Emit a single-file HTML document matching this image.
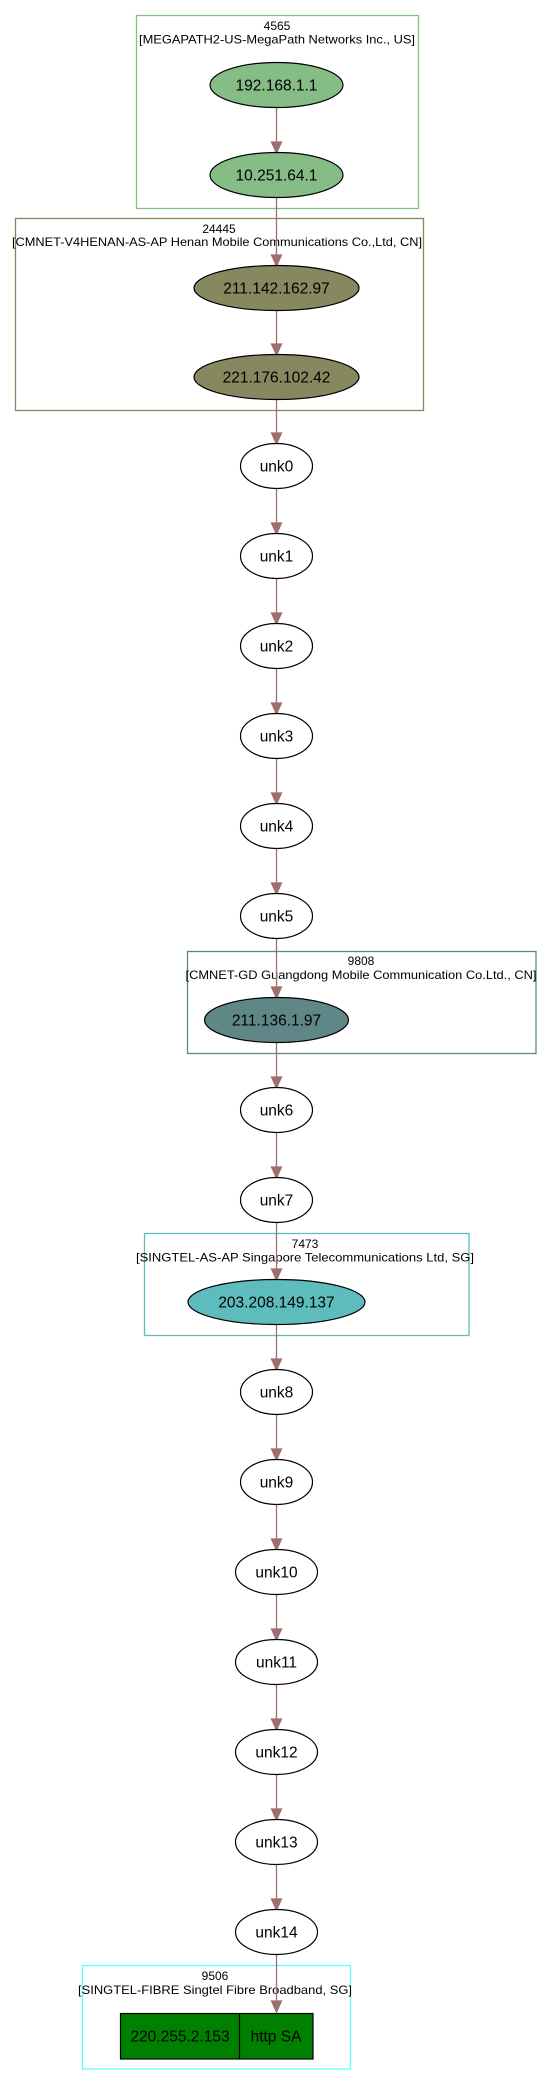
<!DOCTYPE html>
<html><head><meta charset="utf-8"><style>
html,body{margin:0;padding:0;background:#fff;}
svg{display:block;}
text{font-family:"Liberation Sans",Arial,sans-serif;fill:#000;}
.l{font-size:12px;}
.n{font-size:15.5px;}
</style></head><body>
<svg width="551" height="2084" viewBox="0 0 551 2084" xmlns="http://www.w3.org/2000/svg">
<defs>
<marker id="a" markerWidth="10" markerHeight="12" refX="5" refY="12" orient="auto" markerUnits="userSpaceOnUse" viewBox="0 0 10 12">
</marker>
</defs>
<!-- clusters -->
<rect x="136.5" y="15.5" width="282" height="193" fill="none" stroke="#86bc86" stroke-width="1.3"/>
<text class="l" x="277" y="30" text-anchor="middle">4565</text>
<text class="l" x="277" y="43.5" text-anchor="middle" textLength="276" lengthAdjust="spacingAndGlyphs">[MEGAPATH2-US-MegaPath Networks Inc., US]</text>

<rect x="15.5" y="218.5" width="408" height="192" fill="none" stroke="#878760" stroke-width="1.3"/>
<text class="l" x="219" y="233" text-anchor="middle">24445</text>
<text class="l" x="217" y="246" text-anchor="middle" textLength="410" lengthAdjust="spacingAndGlyphs">[CMNET-V4HENAN-AS-AP Henan Mobile Communications Co.,Ltd, CN]</text>

<rect x="187.5" y="951.5" width="348.5" height="102" fill="none" stroke="#5f8787" stroke-width="1.3"/>
<text class="l" x="361" y="965" text-anchor="middle">9808</text>
<text class="l" x="361" y="979" text-anchor="middle" textLength="351" lengthAdjust="spacingAndGlyphs">[CMNET-GD Guangdong Mobile Communication Co.Ltd., CN]</text>

<rect x="144.5" y="1233.5" width="324.5" height="102" fill="none" stroke="#5fbcbc" stroke-width="1.3"/>
<text class="l" x="305" y="1248" text-anchor="middle">7473</text>
<text class="l" x="305" y="1261.5" text-anchor="middle" textLength="338" lengthAdjust="spacingAndGlyphs">[SINGTEL-AS-AP Singapore Telecommunications Ltd, SG]</text>

<rect x="82.5" y="1965.5" width="268" height="103.5" fill="none" stroke="#5fffff" stroke-width="1.3"/>
<text class="l" x="215" y="1980" text-anchor="middle">9506</text>
<text class="l" x="215" y="1994" text-anchor="middle" textLength="274" lengthAdjust="spacingAndGlyphs">[SINGTEL-FIBRE Singtel Fibre Broadband, SG]</text>

<!-- edges -->
<g stroke="#a06e6e" stroke-width="1.3" fill="#a06e6e">
<line x1="276.5" y1="107" x2="276.5" y2="143"/><polygon points="271.5,142 281.5,142 276.5,153"/>
<line x1="276.5" y1="197" x2="276.5" y2="256"/><polygon points="271.5,255 281.5,255 276.5,266"/>
<line x1="276.5" y1="310" x2="276.5" y2="345"/><polygon points="271.5,344 281.5,344 276.5,355"/>
<line x1="276.5" y1="399" x2="276.5" y2="434"/><polygon points="271.5,433 281.5,433 276.5,444"/>
<line x1="276.5" y1="488" x2="276.5" y2="524"/><polygon points="271.5,523 281.5,523 276.5,534"/>
<line x1="276.5" y1="578" x2="276.5" y2="614"/><polygon points="271.5,613 281.5,613 276.5,624"/>
<line x1="276.5" y1="668" x2="276.5" y2="704"/><polygon points="271.5,703 281.5,703 276.5,714"/>
<line x1="276.5" y1="758" x2="276.5" y2="794"/><polygon points="271.5,793 281.5,793 276.5,804"/>
<line x1="276.5" y1="848" x2="276.5" y2="884"/><polygon points="271.5,883 281.5,883 276.5,894"/>
<line x1="276.5" y1="938" x2="276.5" y2="988"/><polygon points="271.5,987 281.5,987 276.5,998"/>
<line x1="276.5" y1="1042" x2="276.5" y2="1078"/><polygon points="271.5,1077 281.5,1077 276.5,1088"/>
<line x1="276.5" y1="1132" x2="276.5" y2="1168"/><polygon points="271.5,1167 281.5,1167 276.5,1178"/>
<line x1="276.5" y1="1222" x2="276.5" y2="1270"/><polygon points="271.5,1269 281.5,1269 276.5,1280"/>
<line x1="276.5" y1="1324" x2="276.5" y2="1360"/><polygon points="271.5,1359 281.5,1359 276.5,1370"/>
<line x1="276.5" y1="1414" x2="276.5" y2="1450"/><polygon points="271.5,1449 281.5,1449 276.5,1460"/>
<line x1="276.5" y1="1504" x2="276.5" y2="1540"/><polygon points="271.5,1539 281.5,1539 276.5,1550"/>
<line x1="276.5" y1="1594" x2="276.5" y2="1630"/><polygon points="271.5,1629 281.5,1629 276.5,1640"/>
<line x1="276.5" y1="1684" x2="276.5" y2="1720"/><polygon points="271.5,1719 281.5,1719 276.5,1730"/>
<line x1="276.5" y1="1774" x2="276.5" y2="1810"/><polygon points="271.5,1809 281.5,1809 276.5,1820"/>
<line x1="276.5" y1="1864" x2="276.5" y2="1900"/><polygon points="271.5,1899 281.5,1899 276.5,1910"/>
<line x1="276.5" y1="1954" x2="276.5" y2="2002"/><polygon points="271.5,2001 281.5,2001 276.5,2012"/>
</g>

<!-- nodes -->
<g stroke="#000" stroke-width="1.2">
<ellipse cx="276.5" cy="85" rx="66.5" ry="22.5" fill="#86bc86"/>
<ellipse cx="276.5" cy="175" rx="66.5" ry="22.5" fill="#86bc86"/>
<ellipse cx="276.5" cy="288" rx="82.5" ry="22.5" fill="#878760"/>
<ellipse cx="276.5" cy="377" rx="82.5" ry="22.5" fill="#878760"/>
<ellipse cx="276.5" cy="1020" rx="72" ry="22.5" fill="#5f8787"/>
<ellipse cx="276.5" cy="1302" rx="88.5" ry="22.5" fill="#5fbcbc"/>
<g fill="#fff">
<ellipse cx="276.5" cy="466" rx="36" ry="22.5"/>
<ellipse cx="276.5" cy="556" rx="36" ry="22.5"/>
<ellipse cx="276.5" cy="646" rx="36" ry="22.5"/>
<ellipse cx="276.5" cy="736" rx="36" ry="22.5"/>
<ellipse cx="276.5" cy="826" rx="36" ry="22.5"/>
<ellipse cx="276.5" cy="916" rx="36" ry="22.5"/>
<ellipse cx="276.5" cy="1110" rx="36" ry="22.5"/>
<ellipse cx="276.5" cy="1200" rx="36" ry="22.5"/>
<ellipse cx="276.5" cy="1392" rx="36" ry="22.5"/>
<ellipse cx="276.5" cy="1482" rx="36" ry="22.5"/>
<ellipse cx="276.5" cy="1572" rx="41" ry="22.5"/>
<ellipse cx="276.5" cy="1662" rx="41" ry="22.5"/>
<ellipse cx="276.5" cy="1752" rx="41" ry="22.5"/>
<ellipse cx="276.5" cy="1842" rx="41" ry="22.5"/>
<ellipse cx="276.5" cy="1932" rx="41" ry="22.5"/>
</g>
<rect x="120.5" y="2013.5" width="192.5" height="45.5" fill="#008000"/>
<line x1="239.5" y1="2013.5" x2="239.5" y2="2059"/>
</g>

<g class="n" text-anchor="middle">
<text class="n" x="276.5" y="90.5">192.168.1.1</text>
<text class="n" x="276.5" y="180.5">10.251.64.1</text>
<text class="n" x="276.5" y="293.5">211.142.162.97</text>
<text class="n" x="276.5" y="382.5">221.176.102.42</text>
<text class="n" x="276.5" y="471.5">unk0</text>
<text class="n" x="276.5" y="561.5">unk1</text>
<text class="n" x="276.5" y="651.5">unk2</text>
<text class="n" x="276.5" y="741.5">unk3</text>
<text class="n" x="276.5" y="831.5">unk4</text>
<text class="n" x="276.5" y="921.5">unk5</text>
<text class="n" x="276.5" y="1025.5">211.136.1.97</text>
<text class="n" x="276.5" y="1115.5">unk6</text>
<text class="n" x="276.5" y="1205.5">unk7</text>
<text class="n" x="276.5" y="1307.5">203.208.149.137</text>
<text class="n" x="276.5" y="1397.5">unk8</text>
<text class="n" x="276.5" y="1487.5">unk9</text>
<text class="n" x="276.5" y="1577.5">unk10</text>
<text class="n" x="276.5" y="1667.5">unk11</text>
<text class="n" x="276.5" y="1757.5">unk12</text>
<text class="n" x="276.5" y="1847.5">unk13</text>
<text class="n" x="276.5" y="1937.5">unk14</text>
<text class="n" x="180" y="2041.5">220.255.2.153</text>
<text class="n" x="276" y="2041.5">http SA</text>
</g>
</svg>
</body></html>
